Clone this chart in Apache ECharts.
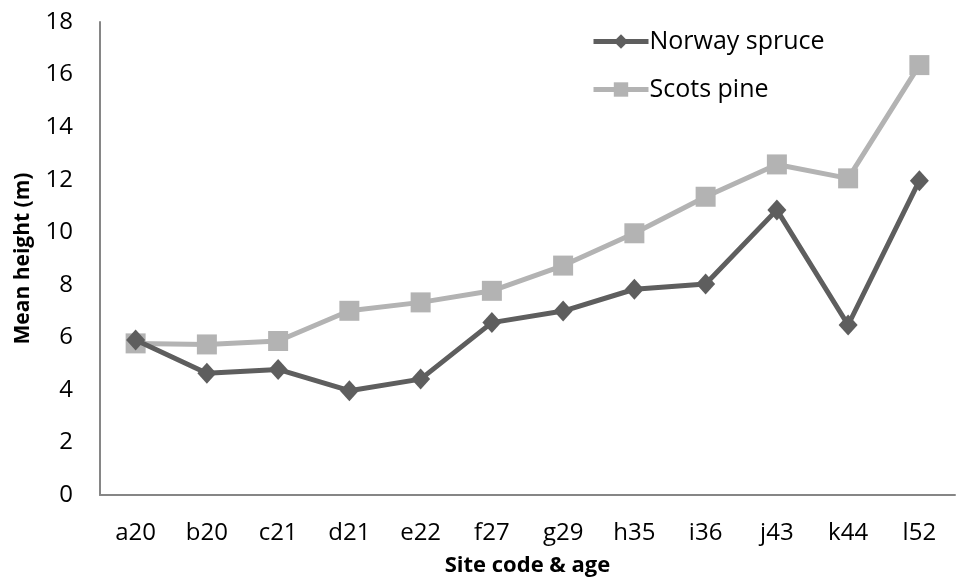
<!DOCTYPE html>
<html>
<head>
<meta charset="utf-8">
<script src="https://cdn.jsdelivr.net/npm/echarts@6/dist/echarts.min.js"></script>
<style>
  html, body { margin: 0; padding: 0; background: #fff; }
  #chart { width: 956px; height: 581px; }
</style>
</head>
<body>
<div id="chart"></div>
<script>
// Sites (code & stand age)
const sites = ['a20', 'b20', 'c21', 'd21', 'e22', 'f27', 'g29', 'h35', 'i36', 'j43', 'k44', 'l52'];
// Mean height (m) per species
const norwaySpruce = [5.9, 4.63, 4.78, 3.97, 4.41, 6.56, 7.0, 7.83, 8.03, 10.85, 6.47, 11.96];
const scotsPine = [5.77, 5.73, 5.86, 7.01, 7.33, 7.77, 8.73, 9.96, 11.35, 12.58, 12.05, 16.36];
// Value axis range
const yMin = 0, yMax = 18, yStep = 2;

const FONT = '"Open Sans", "Liberation Sans", sans-serif';
const chart = echarts.init(document.getElementById('chart'), null, { renderer: 'canvas' });

chart.setOption({
  backgroundColor: '#ffffff',
  animation: false,
  grid: { left: 100, right: 1, top: 22, bottom: 86, containLabel: false, outerBoundsMode: 'none' },
  legend: {
    orient: 'vertical',
    left: 586,
    top: 24,
    itemWidth: 55,
    itemHeight: 18,
    itemGap: 23,
    lineStyle: { width: 5 },
    textStyle: { fontFamily: FONT, fontSize: 25, color: '#000', padding: [0, 0, 0, -4] },
    data: ['Norway spruce', 'Scots pine']
  },
  xAxis: {
    type: 'category',
    data: sites,
    boundaryGap: true,
    axisLine: { lineStyle: { color: '#868686', width: 2 } },
    axisTick: { show: false },
    axisLabel: { fontFamily: FONT, fontSize: 24, color: '#000', margin: 26 },
    name: 'Site code & age',
    nameLocation: 'middle',
    nameGap: 60,
    nameTextStyle: { fontFamily: FONT, fontSize: 22, fontWeight: 'bold', color: '#000' }
  },
  yAxis: {
    type: 'value',
    min: yMin,
    max: yMax,
    interval: yStep,
    splitLine: { show: false },
    axisLine: { show: true, lineStyle: { color: '#868686', width: 2 } },
    axisTick: { show: false },
    axisLabel: { fontFamily: FONT, fontSize: 24, color: '#000', margin: 27 },
    name: 'Mean height (m)',
    nameLocation: 'middle',
    nameGap: 66,
    nameRotate: 90,
    nameTextStyle: { fontFamily: FONT, fontSize: 21, fontWeight: 'bold', color: '#000' }
  },
  series: [
    {
      name: 'Scots pine',
      type: 'line',
      data: scotsPine,
      symbol: 'rect',
      symbolSize: 20,
      lineStyle: { color: '#b3b3b3', width: 5 },
      itemStyle: { color: '#b3b3b3' },
      z: 2
    },
    {
      name: 'Norway spruce',
      type: 'line',
      data: norwaySpruce,
      symbol: 'diamond',
      symbolSize: [19, 21],
      lineStyle: { color: '#5e5e5e', width: 5 },
      itemStyle: { color: '#5e5e5e' },
      z: 3
    }
  ]
});
</script>
</body>
</html>
